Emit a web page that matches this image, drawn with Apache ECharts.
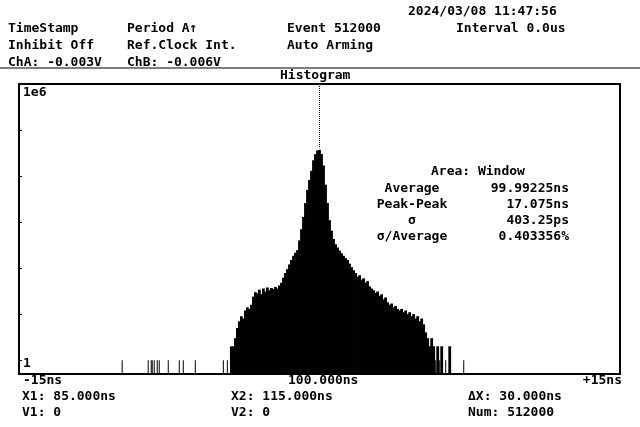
<!DOCTYPE html>
<html><head><meta charset="utf-8">
<script src="https://cdn.jsdelivr.net/npm/echarts@6/dist/echarts.min.js"></script>
<style>html,body{margin:0;padding:0;background:#fff}#c{width:640px;height:427px}</style>
</head><body><div id="c"></div>
<script>
// bin centres (ns) and counts
const binTimes = [90.15,91.45,91.6,91.65,91.75,91.9,92.0,92.45,93.0,93.2,93.8,95.2,95.4,
  95.6,95.7,95.8,95.9,96.0,96.1,96.2,96.3,96.4,96.5,
  96.6,96.7,96.8,96.9,97.0,97.1,97.2,97.3,97.4,97.5,
  97.6,97.7,97.8,97.9,98.0,98.1,98.2,98.3,98.4,98.5,
  98.6,98.7,98.8,98.9,99.0,99.1,99.2,99.3,99.4,99.5,
  99.6,99.7,99.8,99.9,100.0,100.1,100.2,100.3,100.4,100.5,
  100.6,100.7,100.8,100.9,101.0,101.1,101.2,101.3,101.4,101.5,
  101.6,101.7,101.8,101.9,102.0,102.1,102.2,102.3,102.4,102.5,
  102.6,102.7,102.8,102.9,103.0,103.1,103.2,103.3,103.4,103.5,
  103.6,103.7,103.8,103.9,104.0,104.1,104.2,104.3,104.4,104.5,
  104.6,104.7,104.8,104.9,105.0,105.1,105.2,105.3,105.4,105.5,
  105.6,105.7,105.8,105.9,106.0,106.1,106.3,106.5,107.2];
const binCounts = [1,1,1,1,1,1,1,1,1,1,1,1,1,
  2,2,3,5,7,9,8,12,14,13,
  16,24,30,28,34,27,36,31,38,33,
  37,35,39,36,42,48,62,78,95,120,
  150,185,215,245,400,700,1290,2600,5000,8200,
  13000,22000,30000,36000,37000,30000,17000,6500,2600,1100,
  650,430,330,280,240,210,185,165,150,125,
  105,90,78,65,70,56,60,48,52,40,
  36,33,29,31,25,27,21,23,18,16,
  17,14,15,13,12,13,11,12,10,11,
  9,10,8,9,7,8,6,4,3,2,
  3,2,1,2,1,2,1,2,1];
const headerRows = [
  ["TimeStamp","Period A\u2191","Event 512000","Interval 0.0us"],
  ["Inhibit Off","Ref.Clock Int.","Auto Arming",""],
  ["ChA: -0.003V","ChB: -0.006V","",""]
];
const statsLabels = ["Average","Peak-Peak","\u03c3","\u03c3/Average"];
const statsValues = ["99.99225ns","17.075ns","403.25ps","0.403356%"];
const footerRows = [["X1: 85.000ns","X2: 115.000ns","\u0394X: 30.000ns"],["V1: 0","V2: 0","Num: 512000"]];

const F = '"DejaVu Sans Mono", "Liberation Mono", monospace';
const st = (o)=>Object.assign({font:'bold 13px '+F, fill:'#000', textVerticalAlign:'top'},o);
const g = [];
g.push({type:'text',style:st({x:408,y:5,text:'2024/03/08 11:47:56'})});
const cols=[8,127,287,456];
headerRows.forEach((r,i)=>r.forEach((t,j)=>{ if(t) g.push({type:'text',style:st({x:cols[j],y:22+i*17,text:t})}); }));
g.push({type:'line',shape:{x1:0,y1:68,x2:640,y2:68},style:{stroke:'#000',lineWidth:1}});
g.push({type:'text',style:st({x:280,y:69,text:'Histogram'})});
g.push({type:'text',style:st({x:23,y:86,text:'1e6'})});
g.push({type:'text',style:st({x:23,y:357,text:'1'})});
g.push({type:'text',style:st({x:431,y:165,text:'Area: Window'})});
statsLabels.forEach((t,i)=>{
  g.push({type:'text',style:st({x:412,y:182+i*16,text:t,textAlign:'center'})});
  g.push({type:'text',style:st({x:569,y:182+i*16,text:statsValues[i],textAlign:'right'})});
});
g.push({type:'text',style:st({x:23,y:374,text:'-15ns'})});
g.push({type:'text',style:st({x:288,y:374,text:'100.000ns'})});
g.push({type:'text',style:st({x:622,y:374,text:'+15ns',textAlign:'right'})});
const fcols=[22,231,468];
footerRows.forEach((r,i)=>r.forEach((t,j)=>g.push({type:'text',style:st({x:fcols[j],y:390+i*16,text:t})})));

const chart = echarts.init(document.getElementById('c'));
chart.setOption({
  animation:false,
  grid:{left:19,right:20,top:84,bottom:53},
  xAxis:{type:'value',min:85,max:115,axisLabel:{show:false},axisTick:{show:false},splitLine:{show:false},
    axisLine:{lineStyle:{color:'#000',width:2,type:'dashed'}}},
  yAxis:{type:'log',logBase:10,min:0.5,max:1e6,axisLabel:{show:false},splitLine:{show:false},
    axisTick:{show:true,inside:true,length:3,lineStyle:{color:'#000'}},
    axisLine:{show:true,lineStyle:{color:'#000',width:2,type:'dashed'}}},
  graphic:g.concat([{type:'rect',shape:{x:19,y:84,width:601,height:290},style:{fill:'none',stroke:'#000',lineWidth:2}}]),
  series:[{type:'custom',
    data:binTimes.map((t,i)=>[t,binCounts[i]]),
    renderItem:function(params,api){
      const top=api.coord([api.value(0),api.value(1)]);
      const base=api.coord([api.value(0),0.5]);
      const w = api.value(1)<=1 ? 1 : 2.8;
      return {type:'rect',shape:{x:top[0]-w/2,y:top[1],width:w,height:base[1]-top[1]},style:{fill:'#000',stroke:null}};
    }},
    {type:'line',data:[],markLine:{symbol:'none',silent:true,label:{show:false},lineStyle:{color:'#000',type:'dotted',width:1},
      data:[[{coord:[100,1e6]},{coord:[100,40000]}]]}}]
});
</script></body></html>
